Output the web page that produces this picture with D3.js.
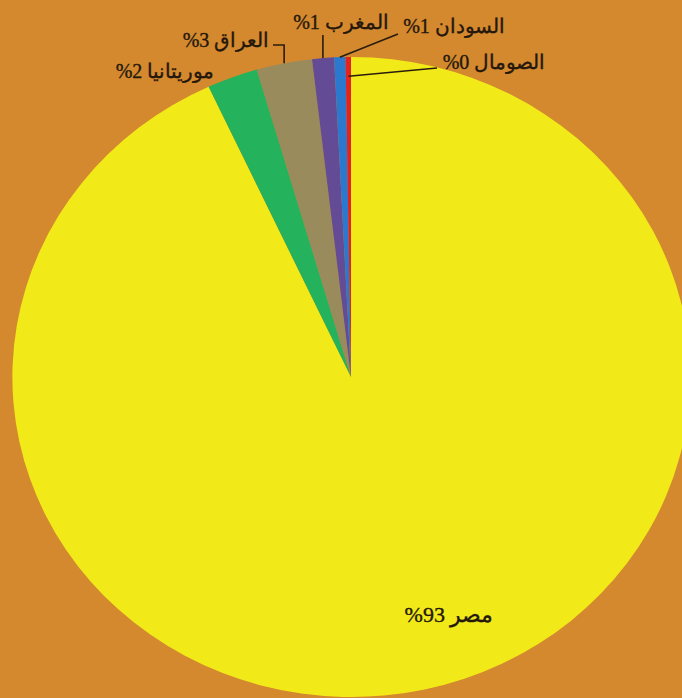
<!DOCTYPE html>
<html>
<head>
<meta charset="utf-8">
<script src="https://cdn.jsdelivr.net/npm/d3@7/dist/d3.min.js"></script>
<style>
  html, body { margin: 0; padding: 0; background: #d4892f; }
  svg { display: block; }
  text { font-family: "Liberation Serif", "DejaVu Serif", serif; font-size: 20px; fill: #24170c;
         stroke: #24170c; stroke-width: 0.35px; }
</style>
</head>
<body>
<svg id="chart" width="682" height="698"></svg>
<script>
// Share of each country, clockwise from twelve o'clock
const countries = ["مصر", "موريتانيا", "العراق", "المغرب", "السودان", "الصومال"];
const shares = [93.1, 2.42, 2.64, 1.04, 0.55, 0.25];
const colors = ["#f2ea18", "#24b35c", "#9a8b5c", "#644b96", "#2b79cf", "#e32222"];

const W = 682, H = 698;
const cx = 351, cy = 377, rx = 339, ry = 320;

// Label placement: text centre/baseline, size, optional leader line start and elbow
const labelLayout = [
  { tx: 449, ty: 622, fs: 22 },
  { tx: 165, ty: 78 },
  { tx: 226, ty: 47, line: "elbow", sx: 273, sy: 45, k: 1.0 },
  { tx: 341, ty: 29, line: "vertical", sy: 35, k: 1.0 },
  { tx: 454, ty: 33, line: "straight", sx: 398, sy: 34, k: 1.0 },
  { tx: 494, ty: 69, line: "straight", sx: 437, sy: 68, k: 0.94 }
];

const svg = d3.select("#chart");
svg.append("rect").attr("width", W).attr("height", H).attr("fill", "#d4892f");

const pie = d3.pie().sort(null).value(d => d)(shares);
const arc = d3.arc().innerRadius(0).outerRadius(1);

// Slightly flattened pie: draw on the unit circle and stretch to the ellipse
const g = svg.append("g").attr("transform", `translate(${cx},${cy}) scale(${rx},${ry})`);
g.selectAll("path")
  .data(pie)
  .join("path")
  .attr("d", arc)
  .attr("fill", (d, i) => colors[i]);

function rimPoint(d, k) {
  const a = (d.startAngle + d.endAngle) / 2;
  return [cx + rx * k * Math.sin(a), cy - ry * k * Math.cos(a)];
}

const lines = svg.append("g")
  .attr("fill", "none")
  .attr("stroke", "#2a1c0e")
  .attr("stroke-width", 1.6);

pie.forEach((d, i) => {
  const L = labelLayout[i];
  if (!L.line) return;
  const [px, py] = rimPoint(d, L.k);
  let pts;
  if (L.line === "elbow") pts = [[L.sx, L.sy], [px, L.sy], [px, py]];
  else if (L.line === "vertical") pts = [[px, L.sy], [px, py]];
  else pts = [[L.sx, L.sy], [px, py]];
  lines.append("path").attr("d", d3.line()(pts));
});

svg.append("g")
  .selectAll("text")
  .data(pie)
  .join("text")
  .attr("x", (d, i) => labelLayout[i].tx)
  .attr("y", (d, i) => labelLayout[i].ty)
  .attr("text-anchor", "middle")
  .attr("direction", "ltr")
  .style("font-size", (d, i) => labelLayout[i].fs ? labelLayout[i].fs + "px" : null)
  .text((d, i) => "%" + Math.round(shares[i]) + " " + countries[i]);
</script>
</body>
</html>
